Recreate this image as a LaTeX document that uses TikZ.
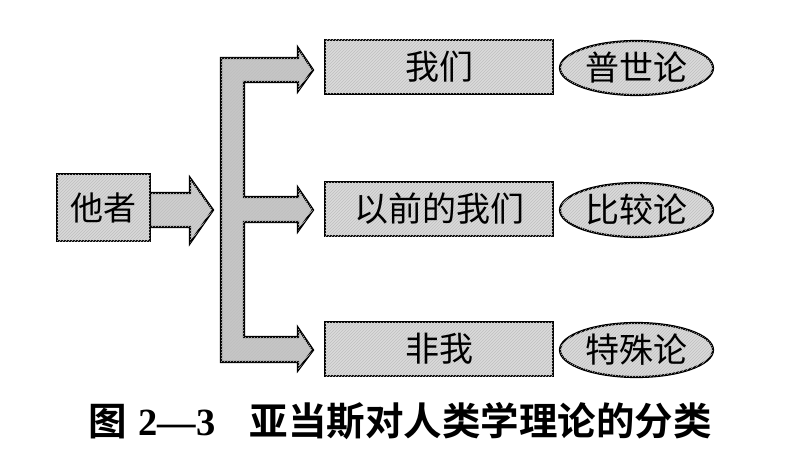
\documentclass[tikz,border=0pt]{standalone}
\usepackage{fontspec}
\usetikzlibrary{patterns,shapes.geometric}
\newfontfamily\cjk{Noto Sans CJK SC}
\newfontfamily\cjkb{Noto Sans CJK SC Bold}
\newfontfamily\capnum{Liberation Serif}
\tikzset{
  hatch/.style={postaction={pattern=north east lines, pattern color=gray!50}},
  graybox/.style={draw=black, line width=2.2pt, fill=gray!28, hatch, minimum width=228pt, minimum height=54pt, inner sep=0pt, font=\cjk\fontsize{34}{40}\selectfont},
  grayell/.style={ellipse, draw=black, line width=2.2pt, fill=gray!28, hatch, minimum width=153pt, minimum height=54pt, inner sep=0pt, font=\cjk\fontsize{34}{40}\selectfont},
  blockarrow/.style={draw=black, line width=2.2pt, line join=miter, fill=gray!38, hatch}
}
\begin{document}
\begin{tikzpicture}[x=1pt,y=-1pt]
\useasboundingbox (0,0) rectangle (812,460);
% arrow out of "other"
\draw[blockarrow] (150,193) -- (190,193) -- (190,178) -- (213,210) -- (190,243) -- (190,227) -- (150,227) -- cycle;
\node[draw=black, line width=2.2pt, fill=gray!30, hatch, minimum width=93pt, minimum height=67pt, inner sep=0pt, font=\cjk\fontsize{33}{40}\selectfont] (other) at (103.5,207.5) {他者};
% bracket with three arrow heads
\draw[blockarrow, fill=gray!45] (221,58) -- (298,58) -- (298,48) -- (313,70) -- (298,91) -- (298,82) -- (244,82)
  -- (244,197) -- (298,197) -- (298,188) -- (313,210) -- (298,231) -- (298,222) -- (244,222)
  -- (244,337) -- (298,337) -- (298,328) -- (313,350) -- (298,370) -- (298,362) -- (221,362) -- cycle;
% boxes
\node[graybox] (we) at (439,67) {我们};
\node[graybox] (formerwe) at (439,209) {以前的我们};
\node[graybox] (notwe) at (439,349) {非我};
% ellipses
\node[grayell] (univ) at (636.5,68) {普世论};
\node[grayell] (comp) at (636.5,210) {比较论};
\node[grayell] (part) at (636.5,350) {特殊论};
% caption
\node[font=\cjkb\fontsize{38.5}{44}\selectfont, anchor=center] (cap) at (400,421) {图\hspace{12pt}{\capnum\bfseries 2—3}\hspace{34pt}亚当斯对人类学理论的分类};
\end{tikzpicture}
\end{document}
